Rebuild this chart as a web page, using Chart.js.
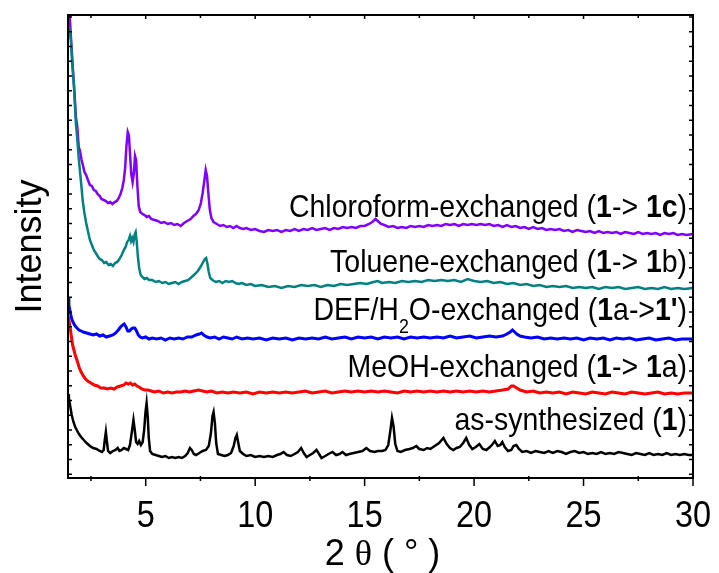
<!DOCTYPE html>
<html>
<head>
<meta charset="utf-8">
<script src="https://cdn.jsdelivr.net/npm/chart.js@4.4.1/dist/chart.umd.min.js"></script>
<style>
  html, body { margin: 0; padding: 0; background: #fff; }
</style>
</head>
<body>
<canvas id="chart1" width="719" height="573"></canvas>
<script>
// 2-theta positions / intensities (a.u., stacked) for each sample
const chloroX = [1.45, 1.53, 1.6, 1.67, 1.74, 1.81, 1.87, 1.94, 2.0, 2.07, 2.13, 2.2, 2.28, 2.36, 2.45, 2.54, 2.63, 2.72, 2.8, 2.9, 2.98, 3.08, 3.18, 3.28, 3.38, 3.48, 3.58, 3.68, 3.77, 3.85, 3.93, 4.0, 4.06, 4.12, 4.18, 4.23, 4.28, 4.34, 4.4, 4.46, 4.51, 4.56, 4.62, 4.68, 4.75, 4.85, 4.95, 5.05, 5.15, 5.25, 5.4, 5.55, 5.7, 5.85, 6.0, 6.15, 6.3, 6.45, 6.6, 6.75, 6.9, 7.05, 7.18, 7.3, 7.42, 7.52, 7.6, 7.67, 7.74, 7.8, 7.86, 7.93, 8.0, 8.1, 8.25, 8.4, 8.55, 8.7, 8.85, 9.0, 9.15, 9.3, 9.45, 9.6, 9.8, 10.0, 10.2, 10.4, 10.6, 10.8, 11.0, 11.2, 11.4, 11.6, 11.8, 12.0, 12.2, 12.4, 12.6, 12.8, 13.0, 13.2, 13.4, 13.6, 13.8, 14.0, 14.2, 14.4, 14.6, 14.8, 15.0, 15.2, 15.35, 15.5, 15.6, 15.75, 15.9, 16.1, 16.3, 16.5, 16.7, 16.9, 17.1, 17.3, 17.5, 17.7, 17.9, 18.1, 18.3, 18.5, 18.7, 18.9, 19.1, 19.3, 19.5, 19.7, 19.9, 20.1, 20.3, 20.5, 20.7, 20.9, 21.1, 21.3, 21.5, 21.7, 21.9, 22.1, 22.3, 22.5, 22.7, 22.9, 23.1, 23.3, 23.5, 23.7, 23.9, 24.1, 24.3, 24.5, 24.7, 24.9, 25.1, 25.3, 25.5, 25.7, 25.9, 26.1, 26.3, 26.5, 26.7, 26.9, 27.1, 27.3, 27.5, 27.7, 27.9, 28.1, 28.3, 28.5, 28.7, 28.9, 29.1, 29.3, 29.5, 29.7, 30];
const chloroY = [470, 461, 435, 410, 388, 361, 352, 331, 327, 318, 313, 306, 303, 298, 293, 292, 288, 287, 284, 282, 279, 278, 277, 275, 276, 274, 276, 277, 280, 284, 290, 298, 310, 332, 346, 343, 325, 304, 296, 305, 322, 318, 292, 272, 266, 264, 263, 261, 262, 259, 258, 257, 255, 256, 254, 255, 253, 254, 252, 255, 257, 259, 262, 264, 268, 275, 285, 296, 308, 302, 285, 268, 260, 256, 254, 252, 253, 251, 252, 250, 252, 250, 249, 250, 248, 249, 247, 246, 248, 247, 248, 246, 248, 247, 249, 247, 249, 248, 250, 248, 249, 250, 248, 250, 249, 251, 250, 251, 250, 252, 252, 254, 256, 259, 257, 254, 253, 251, 252, 250, 251, 250, 252, 251, 252, 251, 253, 252, 253, 252, 254, 253, 254, 252, 254, 253, 254, 253, 254, 253, 254, 252, 253, 251, 253, 251, 252, 250, 251, 249, 251, 249, 250, 248, 249, 248, 249, 247, 248, 246, 248, 247, 246, 247, 245, 247, 245, 246, 245, 246, 244, 246, 245, 244, 246, 244, 245, 244, 245, 243, 245, 244, 245, 243, 244, 243, 244];

const tolX = [1.5, 1.58, 1.65, 1.72, 1.81, 1.87, 1.94, 2.0, 2.07, 2.13, 2.2, 2.28, 2.36, 2.45, 2.54, 2.63, 2.72, 2.8, 2.9, 3.0, 3.1, 3.2, 3.3, 3.4, 3.5, 3.6, 3.7, 3.8, 3.9, 4.0, 4.08, 4.15, 4.22, 4.28, 4.33, 4.38, 4.44, 4.5, 4.54, 4.59, 4.64, 4.7, 4.77, 4.85, 4.95, 5.05, 5.15, 5.3, 5.45, 5.6, 5.75, 5.9, 6.05, 6.2, 6.35, 6.5, 6.65, 6.8, 6.95, 7.1, 7.25, 7.38, 7.5, 7.6, 7.7, 7.76, 7.82, 7.88, 7.95, 8.05, 8.2, 8.35, 8.5, 8.65, 8.8, 8.95, 9.1, 9.25, 9.4, 9.6, 9.8, 10.0, 10.3, 10.6, 10.9, 11.2, 11.5, 11.8, 12.1, 12.4, 12.7, 13.0, 13.3, 13.6, 13.9, 14.2, 14.5, 14.8, 15.1, 15.4, 15.6, 15.8, 16.1, 16.4, 16.7, 17.0, 17.3, 17.6, 17.9, 18.2, 18.5, 18.8, 19.1, 19.4, 19.7, 20.0, 20.3, 20.6, 20.9, 21.2, 21.5, 21.8, 22.1, 22.4, 22.7, 23.0, 23.3, 23.6, 23.9, 24.2, 24.5, 24.8, 25.1, 25.4, 25.7, 26.0, 26.3, 26.6, 26.9, 27.2, 27.5, 27.8, 28.1, 28.4, 28.7, 29.0, 29.3, 29.6, 30];
const tolY = [450, 438, 412, 392, 355, 340, 320, 306, 290, 276, 265, 255, 247, 238, 233, 228, 225, 222, 219, 218, 215, 216, 213, 214, 212, 215, 216, 219, 223, 228, 231, 236, 238, 242, 237, 240, 236, 244, 246, 236, 222, 210, 203, 201, 199, 200, 198, 198, 196, 197, 195, 196, 194, 195, 196, 194, 196, 197, 198, 201, 204, 207, 211, 215, 219, 220, 214, 206, 200, 198, 196, 197, 195, 197, 196, 197, 195, 194, 195, 193, 194, 192, 193, 191, 192, 190, 192, 191, 193, 192, 193, 191, 193, 192, 194, 193, 194, 195, 194, 196, 197, 195, 196, 195, 197, 196, 197, 196, 198, 197, 198, 197, 198, 196, 199, 197, 196, 197, 195, 196, 194, 195, 193, 194, 192, 193, 191, 192, 191, 192, 190, 191, 190, 191, 189, 191, 190, 191, 189, 190, 191, 189, 190, 189, 191, 189, 190, 189, 190];

const defX = [1.45, 1.49, 1.55, 1.62, 1.7, 1.78, 1.86, 1.95, 2.05, 2.15, 2.3, 2.45, 2.6, 2.75, 2.9, 3.05, 3.2, 3.35, 3.5, 3.63, 3.75, 3.85, 3.95, 4.02, 4.1, 4.18, 4.26, 4.34, 4.42, 4.5, 4.58, 4.66, 4.75, 4.85, 5.0, 5.15, 5.3, 5.5, 5.7, 5.9, 6.1, 6.3, 6.5, 6.7, 6.9, 7.1, 7.3, 7.45, 7.55, 7.65, 7.8, 7.95, 8.15, 8.35, 8.55, 8.75, 8.95, 9.15, 9.4, 9.65, 9.9, 10.2, 10.5, 10.8, 11.1, 11.4, 11.7, 12.0, 12.3, 12.6, 12.9, 13.2, 13.5, 13.8, 14.1, 14.4, 14.7, 15.0, 15.3, 15.6, 15.9, 16.2, 16.5, 16.8, 17.1, 17.4, 17.7, 18.0, 18.3, 18.6, 18.9, 19.2, 19.5, 19.8, 20.1, 20.4, 20.7, 21.0, 21.3, 21.5, 21.65, 21.75, 21.85, 21.95, 22.1, 22.3, 22.6, 22.9, 23.2, 23.5, 23.8, 24.1, 24.4, 24.7, 25.0, 25.3, 25.6, 25.9, 26.2, 26.5, 26.8, 27.1, 27.4, 27.7, 28.0, 28.3, 28.6, 28.9, 29.2, 29.5, 30];
const defY = [180, 173, 166, 159, 155, 152, 150, 148, 147, 146, 145, 144, 143, 144, 142, 143, 141, 142, 143, 145, 148, 151, 153, 154, 151, 147, 147, 149, 150, 150, 147, 143, 141, 140, 141, 139, 140, 139, 140, 138, 140, 139, 140, 139, 141, 141, 143, 144, 145, 143, 141, 140, 141, 139, 141, 140, 139, 141, 139, 140, 139, 140, 138, 140, 139, 140, 138, 140, 139, 140, 139, 141, 139, 140, 141, 139, 141, 140, 141, 139, 141, 140, 141, 139, 141, 140, 141, 140, 141, 140, 142, 140, 141, 142, 140, 141, 142, 141, 142, 144, 146, 148, 146, 144, 142, 141, 140, 141, 139, 140, 139, 140, 139, 140, 138, 140, 139, 140, 138, 140, 139, 140, 138, 139, 140, 138, 139, 140, 138, 139, 139];

const meohX = [1.45, 1.5, 1.55, 1.6, 1.66, 1.72, 1.78, 1.84, 1.9, 1.97, 2.05, 2.15, 2.25, 2.35, 2.5, 2.65, 2.8, 2.95, 3.1, 3.25, 3.4, 3.55, 3.7, 3.85, 4.0, 4.1, 4.2, 4.3, 4.4, 4.5, 4.6, 4.7, 4.82, 4.95, 5.1, 5.25, 5.4, 5.6, 5.8, 6.0, 6.2, 6.4, 6.6, 6.8, 7.0, 7.2, 7.4, 7.6, 7.8, 8.0, 8.25, 8.5, 8.75, 9.0, 9.3, 9.6, 9.9, 10.2, 10.5, 10.8, 11.1, 11.4, 11.7, 12.0, 12.3, 12.6, 12.9, 13.2, 13.5, 13.8, 14.1, 14.4, 14.7, 15.0, 15.3, 15.6, 15.9, 16.2, 16.5, 16.8, 17.1, 17.4, 17.7, 18.0, 18.3, 18.6, 18.9, 19.2, 19.5, 19.8, 20.1, 20.4, 20.7, 21.0, 21.3, 21.55, 21.7, 21.8, 21.95, 22.1, 22.4, 22.7, 23.0, 23.3, 23.6, 23.9, 24.2, 24.5, 24.8, 25.1, 25.4, 25.7, 26.0, 26.3, 26.6, 26.9, 27.2, 27.5, 27.8, 28.1, 28.4, 28.7, 29.0, 29.3, 29.6, 30];
const meohY = [162, 157, 150, 142, 133, 128, 123, 119, 115, 110, 106, 102, 99, 97, 95, 93, 92, 90, 90, 89, 90, 89, 91, 92, 93, 95, 94, 95, 93, 94, 92, 91, 89, 88, 88, 87, 86, 87, 85, 86, 85, 86, 86, 87, 86, 87, 88, 87, 86, 87, 85, 86, 85, 86, 85, 86, 84, 86, 85, 86, 85, 86, 85, 86, 87, 85, 86, 87, 85, 86, 87, 86, 87, 86, 87, 86, 87, 86, 85, 87, 86, 87, 86, 87, 86, 87, 86, 87, 86, 87, 86, 87, 86, 87, 88, 89, 92, 92, 90, 88, 86, 87, 85, 86, 85, 86, 84, 86, 85, 84, 86, 85, 84, 86, 85, 84, 86, 85, 84, 85, 86, 84, 85, 84, 85, 85];

const asSynX = [1.45, 1.49, 1.55, 1.62, 1.7, 1.78, 1.85, 1.95, 2.05, 2.17, 2.3, 2.45, 2.6, 2.75, 2.9, 3.0, 3.08, 3.13, 3.18, 3.23, 3.28, 3.38, 3.5, 3.62, 3.72, 3.8, 3.9, 4.0, 4.1, 4.2, 4.28, 4.36, 4.44, 4.5, 4.56, 4.63, 4.7, 4.78, 4.86, 4.93, 4.99, 5.04, 5.09, 5.14, 5.2, 5.3, 5.45, 5.6, 5.75, 5.9, 6.05, 6.2, 6.35, 6.5, 6.65, 6.8, 6.92, 7.02, 7.1, 7.2, 7.3, 7.45, 7.6, 7.75, 7.88, 7.98, 8.05, 8.1, 8.16, 8.22, 8.3, 8.45, 8.6, 8.75, 8.9, 9.02, 9.1, 9.16, 9.22, 9.3, 9.45, 9.6, 9.8, 10.0, 10.2, 10.4, 10.6, 10.8, 11.0, 11.15, 11.3, 11.45, 11.62, 11.8, 11.95, 12.1, 12.22, 12.35, 12.5, 12.65, 12.8, 12.92, 13.03, 13.2, 13.35, 13.53, 13.7, 13.85, 13.99, 14.15, 14.3, 14.5, 14.7, 14.9, 15.08, 15.25, 15.45, 15.6, 15.8, 15.95, 16.08, 16.18, 16.25, 16.32, 16.4, 16.5, 16.65, 16.85, 17.05, 17.2, 17.36, 17.5, 17.7, 17.85, 18.0, 18.2, 18.4, 18.6, 18.75, 18.9, 19.05, 19.2, 19.35, 19.5, 19.64, 19.78, 19.92, 20.08, 20.24, 20.4, 20.56, 20.72, 20.85, 20.95, 21.08, 21.2, 21.29, 21.4, 21.55, 21.7, 21.8, 21.93, 22.05, 22.2, 22.4, 22.6, 22.8, 23.0, 23.2, 23.4, 23.6, 23.8, 24.0, 24.2, 24.4, 24.6, 24.8, 25.0, 25.2, 25.4, 25.6, 25.8, 26.0, 26.2, 26.4, 26.6, 26.8, 27.0, 27.2, 27.4, 27.6, 27.8, 28.0, 28.2, 28.4, 28.6, 28.8, 29.0, 29.2, 29.4, 29.6, 29.8, 30];
const asSynY = [84, 80, 72, 63, 56, 51, 48, 44, 41, 38, 35, 32, 30, 29, 27, 26, 28, 38, 46, 36, 27, 25, 27, 28, 30, 27, 28, 30, 29, 28, 33, 45, 58, 48, 36, 34, 37, 33, 36, 48, 66, 75, 62, 40, 27, 24, 23, 22, 21, 22, 20, 21, 20, 21, 20, 22, 25, 30, 28, 24, 23, 25, 27, 28, 32, 45, 62, 66, 55, 35, 24, 23, 22, 23, 25, 32, 40, 43, 36, 27, 24, 22, 23, 21, 22, 21, 22, 21, 23, 24, 26, 23, 22, 24, 26, 30, 25, 21, 23, 25, 28, 24, 20, 22, 24, 26, 23, 24, 26, 23, 24, 25, 26, 27, 30, 27, 26, 27, 27, 28, 33, 48, 60, 52, 34, 27, 26, 28, 29, 30, 32, 29, 28, 30, 29, 32, 35, 40, 34, 30, 28, 30, 31, 35, 40, 33, 29, 31, 34, 29, 28, 31, 34, 37, 32, 33, 36, 31, 27, 28, 32, 33, 29, 26, 27, 25, 27, 26, 25, 27, 25, 27, 26, 24, 26, 27, 25, 26, 24, 25, 24, 26, 24, 25, 24, 26, 25, 24, 23, 25, 24, 23, 25, 23, 24, 23, 25, 23, 24, 23, 24, 23, 23];

const xTicks = [5, 10, 15, 20, 25, 30];
const xMinorTicks = [2.5, 7.5, 12.5, 17.5, 22.5, 27.5];

const seriesLabels = [
  { y: 261, parts: [["Chloroform-exchanged (", 0], ["1", 1], ["-> ", 0], ["1c", 1], [")", 0]] },
  { y: 206, parts: [["Toluene-exchanged (", 0], ["1", 1], ["-> ", 0], ["1", 1], ["b)", 0]] },
  { y: 158, parts: [["DEF/H", 0], ["2", 2], ["O-exchanged (", 0], ["1", 1], ["a->", 0], ["1'", 1], [")", 0]] },
  { y: 101, parts: [["MeOH-exchanged (", 0], ["1", 1], ["-> ", 0], ["1", 1], ["a)", 0]] },
  { y: 48, parts: [["as-synthesized (", 0], ["1", 1], [")", 0]] },
];

const FONT = "'Liberation Sans', Arial, sans-serif";

function pts(xs, ys) {
  return xs.map((x, i) => ({ x, y: ys[i] }));
}

function line(label, xs, ys, color, width) {
  return {
    label,
    data: pts(xs, ys),
    borderColor: color,
    backgroundColor: color,
    borderWidth: width,
    pointRadius: 0,
    tension: 0,
  };
}

// right-aligned label made of plain / bold / subscript runs
function drawRich(ctx, parts, xr, yb, size, sx) {
  const fontOf = (k) =>
    k === 1 ? `bold ${size}px ${FONT}` : k === 2 ? `${Math.round(size * 0.62)}px ${FONT}` : `${size}px ${FONT}`;
  let w = 0;
  for (const [t, k] of parts) {
    ctx.font = fontOf(k);
    w += ctx.measureText(t).width;
  }
  ctx.save();
  ctx.translate(xr, yb);
  ctx.scale(sx, 1);
  let x = -w;
  for (const [t, k] of parts) {
    ctx.font = fontOf(k);
    ctx.fillText(t, x, k === 2 ? size * 0.4 : 0);
    x += ctx.measureText(t).width;
  }
  ctx.restore();
}

const framePlugin = {
  id: "frame",
  afterDatasetsDraw(chart) {
    const { ctx, chartArea: a } = chart;
    const xs = chart.scales.x;
    const ys = chart.scales.y;
    ctx.save();
    ctx.strokeStyle = "#000";
    ctx.fillStyle = "#000";

    ctx.lineWidth = 2;
    ctx.strokeRect(a.left, a.top, a.right - a.left, a.bottom - a.top);

    ctx.lineWidth = 1.5;
    ctx.beginPath();
    for (const v of xTicks) {
      const px = xs.getPixelForValue(v);
      ctx.moveTo(px, a.bottom);
      ctx.lineTo(px, a.bottom + 8);
      ctx.moveTo(px, a.top);
      ctx.lineTo(px, a.top + 4);
    }
    for (const v of xMinorTicks) {
      const px = xs.getPixelForValue(v);
      ctx.moveTo(px, a.bottom - 2);
      ctx.lineTo(px, a.bottom + 3);
      ctx.moveTo(px, a.top);
      ctx.lineTo(px, a.top + 3);
    }
    // small inward ticks on both side axes
    for (let v = 3.8; v < ys.max; v += 14.75) {
      const py = ys.getPixelForValue(v);
      ctx.moveTo(a.left, py);
      ctx.lineTo(a.left + 4, py);
      ctx.moveTo(a.right, py);
      ctx.lineTo(a.right - 4, py);
    }
    ctx.stroke();

    // tick labels
    ctx.textBaseline = "alphabetic";
    for (const v of xTicks) {
      const px = xs.getPixelForValue(v);
      ctx.save();
      ctx.translate(px, a.bottom + 49);
      ctx.scale(0.9, 1);
      ctx.font = `36px ${FONT}`;
      ctx.textAlign = "center";
      ctx.fillText(String(v), 0, 0);
      ctx.restore();
    }

    // x title: 2θ(°)
    ctx.textAlign = "left";
    const titleParts = [["2 ", `36px ${FONT}`], ["\u03b8", "36px 'Liberation Serif', serif"], [" ( \u00b0 )", `36px ${FONT}`]];
    let tw = 0;
    for (const [t, f] of titleParts) { ctx.font = f; tw += ctx.measureText(t).width; }
    let tx = (a.left + a.right) / 2 + 2 - tw / 2;
    for (const [t, f] of titleParts) {
      ctx.font = f;
      ctx.fillText(t, tx, a.bottom + 87);
      tx += ctx.measureText(t).width;
    }

    // y title
    ctx.save();
    ctx.translate(41, (a.top + a.bottom) / 2);
    ctx.rotate(-Math.PI / 2);
    ctx.textAlign = "center";
    ctx.font = `36px ${FONT}`;
    ctx.fillText("Intensity", 0, 0);
    ctx.restore();

    // sample labels
    ctx.textAlign = "left";
    const xr = xs.getPixelForValue(29.73);
    for (const l of seriesLabels) {
      drawRich(ctx, l.parts, xr, ys.getPixelForValue(l.y), 32, 0.89);
    }
    ctx.restore();
  },
};

const config = {
  type: "line",
  data: {
    datasets: [
      line("as-synthesized (1)", asSynX, asSynY, "#000000", 2.5),
      line("MeOH-exchanged (1-> 1a)", meohX, meohY, "#ff0000", 3),
      line("DEF/H2O-exchanged (1a->1')", defX, defY, "#0000ff", 3),
      line("Toluene-exchanged (1-> 1b)", tolX, tolY, "#008080", 2.5),
      line("Chloroform-exchanged (1-> 1c)", chloroX, chloroY, "#8000ff", 2.5),
    ],
  },
  options: {
    responsive: false,
    animation: false,
    layout: { padding: { left: 0, right: 26, top: 15, bottom: 0 } },
    plugins: {
      legend: { display: false },
      tooltip: { enabled: false },
    },
    scales: {
      x: {
        type: "linear",
        min: 1.45,
        max: 30,
        afterFit: (s) => { s.height = 95; },
        afterBuildTicks: (s) => { s.ticks = xTicks.map((v) => ({ value: v })); },
        ticks: { display: false },
        grid: { display: false },
        border: { display: false },
      },
      y: {
        min: 0,
        max: 463,
        afterFit: (s) => { s.width = 68; },
        ticks: { display: false },
        grid: { display: false },
        border: { display: false },
      },
    },
  },
  plugins: [framePlugin],
};

new Chart(document.getElementById("chart1"), config);
</script>
</body>
</html>
